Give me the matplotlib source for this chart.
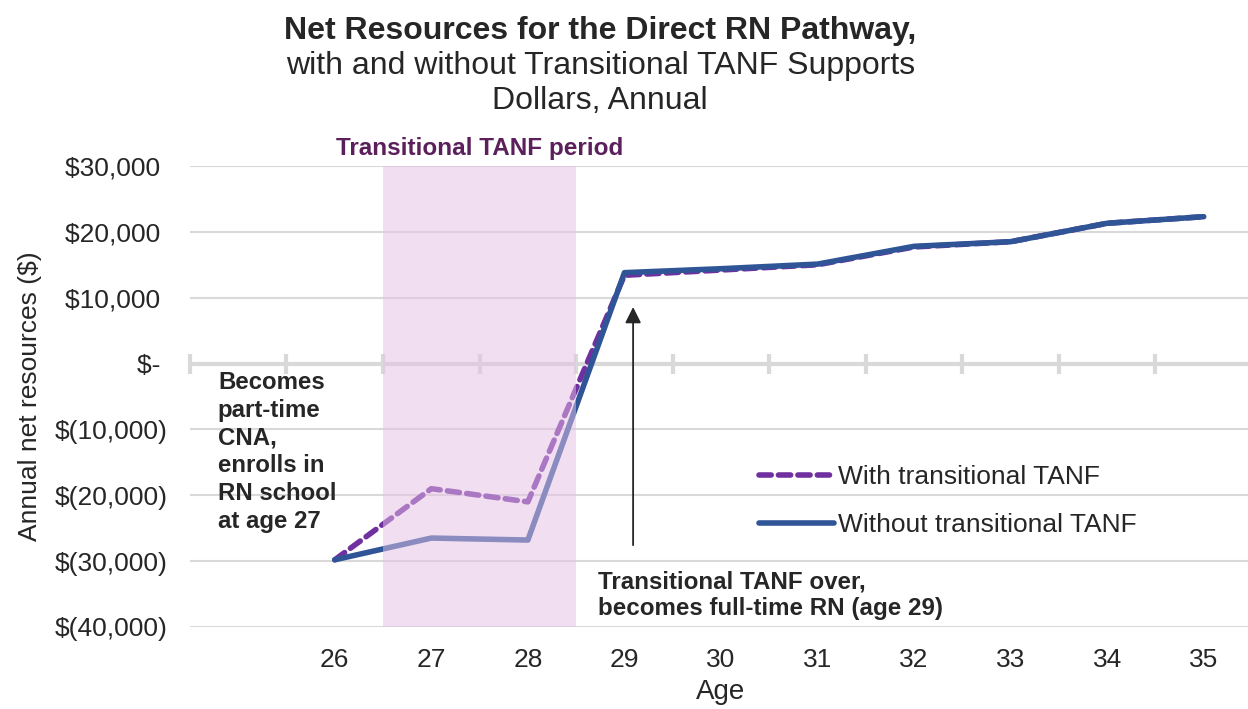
import numpy as np
import matplotlib.pyplot as plt

plt.rcParams['font.family'] = ['Liberation Sans', 'DejaVu Sans']

# Data
ages = [26, 27, 28, 29, 30, 31, 32, 33, 34, 35]
with_tanf = [-29800, -19000, -21000, 13400, 14200, 15000, 17700, 18500, 21300, 22300]
without_tanf = [-29800, -26500, -26800, 13800, 14400, 15100, 17800, 18500, 21300, 22300]
y_ticks = [30000, 20000, 10000, 0, -10000, -20000, -30000, -40000]
y_labels = ['$30,000 ', '$20,000 ', '$10,000 ', '$- ', '$(10,000)', '$(20,000)', '$(30,000)', '$(40,000)']
tanf_start, tanf_end = 27, 28

txt = '#262626'
grid = '#d9d9d9'

fig = plt.figure(figsize=(12.48, 7.09), dpi=100)
ax = fig.add_axes([0.1522, 0.1157, 0.851, 0.6502])

ax.plot(ages, with_tanf, color='#7030a0', lw=4, ls=(0, (2.2, 1.3)),
        solid_capstyle='round', dash_capstyle='round', label='With transitional TANF', zorder=3)
ax.plot(ages, without_tanf, color='#2f5597', lw=4, solid_capstyle='round',
        label='Without transitional TANF', zorder=4)

# shaded TANF period drawn over the lines (lightens them)
ax.axvspan(tanf_start - 0.5, tanf_end + 0.5, color='#e5c1e5', alpha=0.5, lw=0, zorder=5)
ax.text((tanf_start + tanf_end) / 2, 32700, 'Transitional TANF period', ha='center', va='center',
        fontsize=17.5, fontweight='bold', color='#5b1f5b', clip_on=False)

# grid + zero axis with category boundary marks
for v in y_ticks:
    if v != 0:
        ax.axhline(v, color=grid, lw=1.5, zorder=1)
ax.axhline(0, color=grid, lw=3, zorder=2)
bounds = np.arange(min(ages) - 1.5, max(ages) + 1, 1.0)
ax.plot(bounds, np.zeros_like(bounds), ls='none', marker='|', markersize=14, mew=3,
        color=grid, zorder=2, clip_on=False)

ax.set_xlim(min(ages) - 1.5, max(ages) + 0.5)
ax.set_ylim(-40000, 30000)
ax.set_xticks(ages)
ax.set_xticklabels([str(a) for a in ages])
ax.set_yticks(y_ticks)
ax.set_yticklabels(y_labels)
ax.tick_params(length=0, labelsize=19, colors=txt)
ax.tick_params(axis='y', pad=16)
ax.tick_params(axis='x', pad=15)
for s in ax.spines.values():
    s.set_visible(False)

ax.set_xlabel('Age', fontsize=20, color=txt, va='center')
ax.xaxis.set_label_coords(0.5, -0.14)
fig.text(30 / 1248, 0.4415, 'Annual net resources ($)', rotation=90, ha='center', va='center',
         fontsize=19, color=txt)

# annotations
ax.text(24.79, -1100, 'Becomes\npart-time\nCNA,\nenrolls in\nRN school\nat age 27', ha='left', va='top',
        fontsize=17.3, fontweight='bold', color=txt, linespacing=1.27, zorder=6)
ax.text(28.73, -31400, 'Transitional TANF over,\nbecomes full-time RN (age 29)', ha='left', va='top',
        fontsize=17.4, fontweight='bold', color=txt, linespacing=1.23, zorder=6)
ax.annotate('', xy=(29.09, 9000), xytext=(29.09, -28000),
            arrowprops=dict(arrowstyle='-|>', color=txt, lw=1.3, mutation_scale=24), zorder=6)

leg = ax.legend(loc='center left', bbox_to_anchor=(0.513, 0.273), frameon=False, fontsize=19,
                handlelength=2.85, labelspacing=0.9, handletextpad=0.15)
for t in leg.get_texts():
    t.set_color(txt)

fig.text(0.481, 0.956, 'Net Resources for the Direct RN Pathway,', ha='center', va='center',
         fontsize=23, fontweight='bold', color=txt)
fig.text(0.481, 0.907, 'with and without Transitional TANF Supports', ha='center', va='center',
         fontsize=23, color=txt)
fig.text(0.481, 0.857, 'Dollars, Annual', ha='center', va='center', fontsize=23, color=txt)

fig.savefig('out.png', dpi=100)
